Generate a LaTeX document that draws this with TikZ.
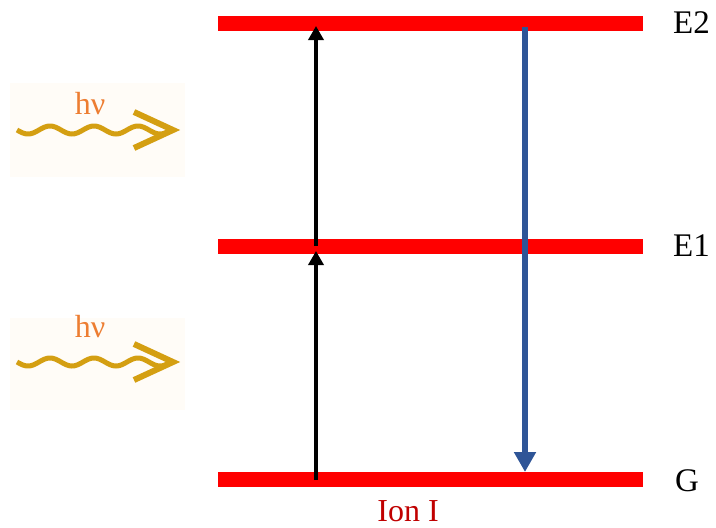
\documentclass[tikz,border=0pt]{standalone}
\usepackage{fontspec}
\setmainfont{Liberation Serif}
\usetikzlibrary{arrows.meta}
\definecolor{levelred}{HTML}{FF0000}
\definecolor{emitblue}{HTML}{2F5597}
\definecolor{photongold}{HTML}{D49F12}
\definecolor{photontext}{HTML}{ED7D31}
\definecolor{ionred}{HTML}{C00000}
\definecolor{photonbg}{HTML}{FFFCF7}
\tikzset{
  level/.style={levelred, line width=15pt},
  levellabel/.style={anchor=west, inner sep=0pt, font=\fontsize{33}{36}\selectfont},
  absorb/.style={black, line width=3.5pt, -{Triangle[length=14pt,width=15pt]}},
  emit/.style={emitblue, line width=6pt, -{Triangle[length=20pt,width=21pt]}},
  photon/.style={photongold, line width=5pt},
  photonhead/.style={photongold, line width=6pt, line join=miter},
  hnu/.style={photontext, inner sep=0pt, anchor=base, font=\fontsize{32}{34}\selectfont},
}
\begin{document}
\begin{tikzpicture}[x=1pt, y=-1pt]
\useasboundingbox (0,0) rectangle (716,528);

% faint backgrounds behind the photons
\fill[photonbg] (10,83) rectangle (185,177);
\fill[photonbg] (10,318) rectangle (185,410);

% energy levels
\coordinate (e2l) at (218,23.5);  \coordinate (e2r) at (643,23.5);
\coordinate (e1l) at (218,246.5); \coordinate (e1r) at (643,246.5);
\coordinate (gl)  at (218,479.5); \coordinate (gr)  at (643,479.5);
\draw[level] (e2l) -- (e2r);
\draw[level] (e1l) -- (e1r);
\draw[level] (gl) -- (gr);

\node[levellabel] (lE2) at (673,23) {E2};
\node[levellabel] (lE1) at (673,246) {E1};
\node[levellabel] (lG)  at (675,481) {G};
\node[ionred, inner sep=0pt, anchor=base, text depth=0pt, font=\fontsize{32}{36}\selectfont] (ion) at (408,521) {Ion I};

% absorption steps
\coordinate (a0) at (316,480);
\coordinate (a1t) at (316,251);
\coordinate (a1) at (316,246);
\coordinate (a2t) at (316,26);
\draw[absorb] (a0) -- (a1t);
\draw[absorb] (a1) -- (a2t);

% emission back to the ground level
\coordinate (b0) at (525,27);
\coordinate (b1) at (525,472);
\draw[emit] (b0) -- (b1);

% incoming photons (wavelength 44)
\node[hnu] (h1) at (90,114) {hν};
\node[hnu] (h2) at (90,337) {hν};
\draw[photon] plot[domain=0:155, samples=120] ({\x+17},{130+4*sin(\x*8.1818)});
\draw[photonhead] (134,112) -- (173,130) -- (134,148);
\draw[photon] plot[domain=0:155, samples=120] ({\x+17},{362+4*sin(\x*8.1818)});
\draw[photonhead] (134,344) -- (173,362) -- (134,380);
\end{tikzpicture}
\end{document}
